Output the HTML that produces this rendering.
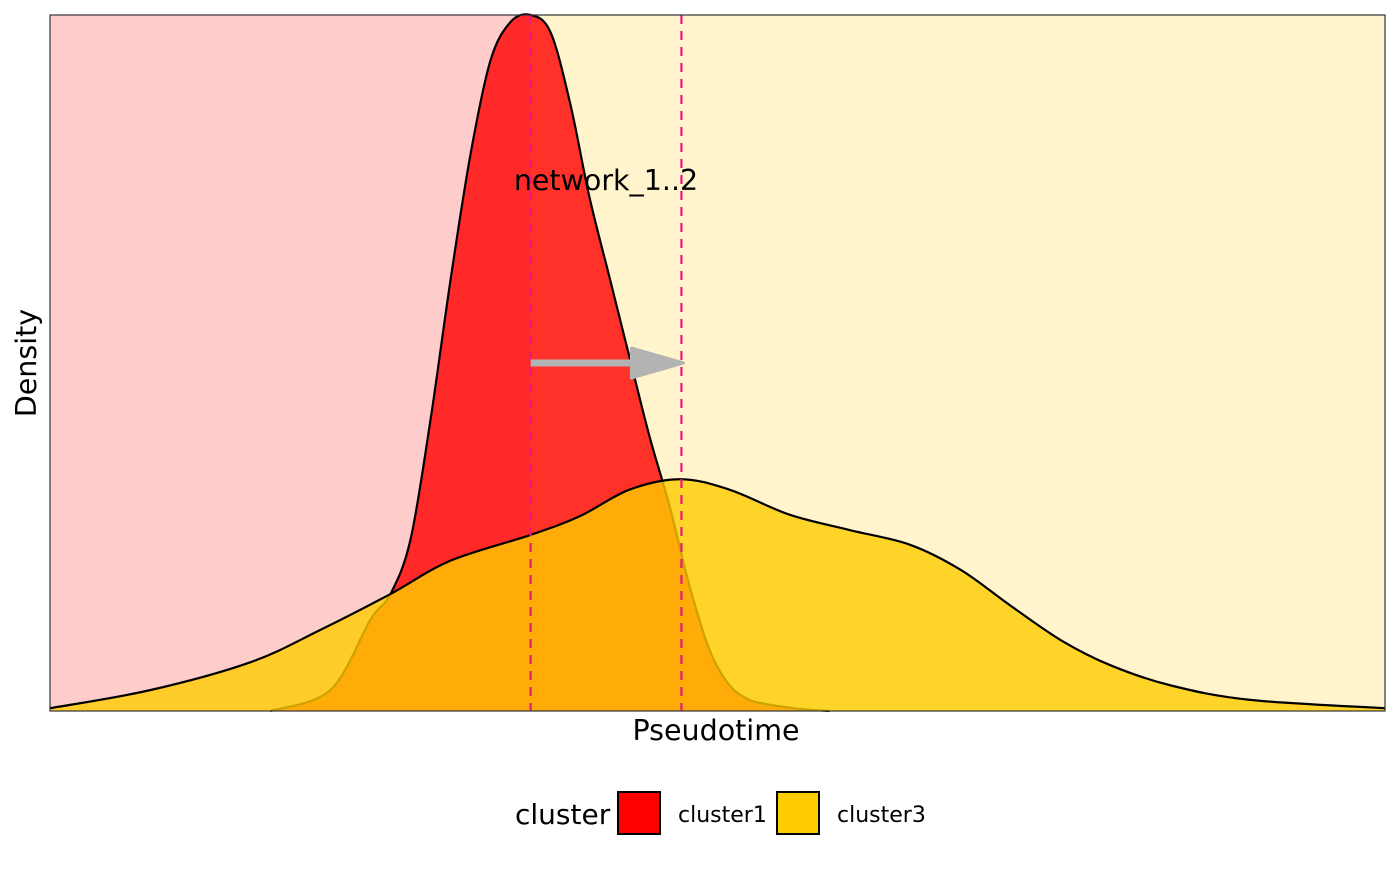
<!DOCTYPE html>
<html><head><meta charset="utf-8"><style>
body{margin:0;background:#fff;}
svg text{font-family:"DejaVu Sans","Liberation Sans",sans-serif;}
</style></head><body>
<svg id="c" width="1400" height="866" xmlns="http://www.w3.org/2000/svg"></svg>
<script>
const c1X=[16.5,21.0,24.0,25.5,27.0,28.5,30.0,31.5,33.0,34.5,36.0,37.5,39.0,40.4,41.9,43.4,44.9,46.4,47.9,49.4,50.9,52.4,53.9,56.2,58.4];
const c1Y=[0,0.030,0.131,0.168,0.246,0.418,0.619,0.800,0.935,0.990,1.0,0.975,0.870,0.739,0.624,0.509,0.395,0.295,0.180,0.088,0.037,0.016,0.009,0.003,0];
const c3X=[0,7.5,15.0,20.2,25.5,30.0,36.0,39.7,43.4,47.2,50.9,55.4,59.9,64.4,68.2,71.9,75.7,79.4,83.9,89.9,100];
const c3Y=[0.004,0.030,0.070,0.116,0.168,0.216,0.253,0.280,0.318,0.333,0.318,0.282,0.260,0.239,0.203,0.152,0.102,0.066,0.037,0.016,0.004];
const vlines=[36.0,47.3];
const arrowY=0.5;
const L=50,R=1385,T=15,B=711;
const sx=v=>L+(v/100)*(R-L), sy=v=>B-v*(B-T);
const NS="http://www.w3.org/2000/svg", svg=document.getElementById('c');
function el(t,a,p){const e=document.createElementNS(NS,t);for(const k in a)e.setAttribute(k,a[k]);(p||svg).appendChild(e);return e;}
function smooth(xs,ys){const p=xs.map((x,i)=>[sx(x),sy(ys[i])]);let d=`M${p[0][0]},${p[0][1]}`;
for(let i=0;i<p.length-1;i++){const p0=p[i-1]||p[i],p1=p[i],p2=p[i+1],p3=p[i+2]||p2;
d+=` C${p1[0]+(p2[0]-p0[0])/6},${p1[1]+(p2[1]-p0[1])/6} ${p2[0]-(p3[0]-p1[0])/6},${p2[1]-(p3[1]-p1[1])/6} ${p2[0]},${p2[1]}`;}return d;}
let e;
e=el('rect',{x:L,y:T,width:sx(vlines[0])-L,height:B-T,fill:'#FFCCCC'});

e=el('rect',{x:sx(vlines[0]),y:T,width:R-sx(vlines[0]),height:B-T,fill:'#FFF4CC'});

const d1=smooth(c1X,c1Y);
e=el('path',{d:d1+` L${sx(c1X[0])},${B} Z`,fill:'#FF0000','fill-opacity':0.8,stroke:'none'});

e=el('path',{d:d1,fill:'none',stroke:'#000','stroke-width':2.2});

const d3=smooth(c3X,c3Y);
e=el('path',{d:d3+` L${sx(c3X[c3X.length-1])},${B} L${sx(c3X[0])},${B} Z`,fill:'#FFCC00','fill-opacity':0.8,stroke:'none'});

e=el('path',{d:d3,fill:'none',stroke:'#000','stroke-width':2.2});

vlines.forEach((v,i)=>{const l=el('line',{x1:sx(v),x2:sx(v),y1:T,y2:B,stroke:'#E6197F','stroke-width':2.2,'stroke-dasharray':'9,7'});
});
const ax1=sx(vlines[0]),ax2=sx(vlines[1]),ay=sy(arrowY);
e=el('line',{x1:ax1,x2:ax2-45,y1:ay,y2:ay,stroke:'#B3B3B3','stroke-width':7});

e=el('path',{d:`M${ax2-50},${ay-15} L${ax2+2},${ay} L${ax2-50},${ay+15} Z`,fill:'#B3B3B3',stroke:'#B3B3B3','stroke-width':3,'stroke-linejoin':'round'});

e=el('rect',{x:L,y:T,width:R-L,height:B-T,fill:'none',stroke:'#333','stroke-width':1.2});

e=el('text',{x:606,y:190,'font-size':28.5,'text-anchor':'middle',fill:'#000'});e.textContent='network_1..2';

e=el('text',{x:716,y:740,'font-size':28.5,'text-anchor':'middle',fill:'#000'});e.textContent='Pseudotime';

e=el('text',{x:36,y:363,'font-size':28.5,'text-anchor':'middle',fill:'#000',transform:'rotate(-90 36 363)'});e.textContent='Density';

e=el('text',{x:515,y:824,'font-size':28,fill:'#000'});e.textContent='cluster';

[['cluster1','#FF0000',618],['cluster3','#FFCC00',777]].forEach(([n,col,x])=>{
const r=el('rect',{x:x,y:792,width:42,height:42,fill:col,stroke:'#000','stroke-width':2});

const t=el('text',{x:x+60,y:822,'font-size':22,fill:'#000'});t.textContent=n;
});
</script>
</body></html>
